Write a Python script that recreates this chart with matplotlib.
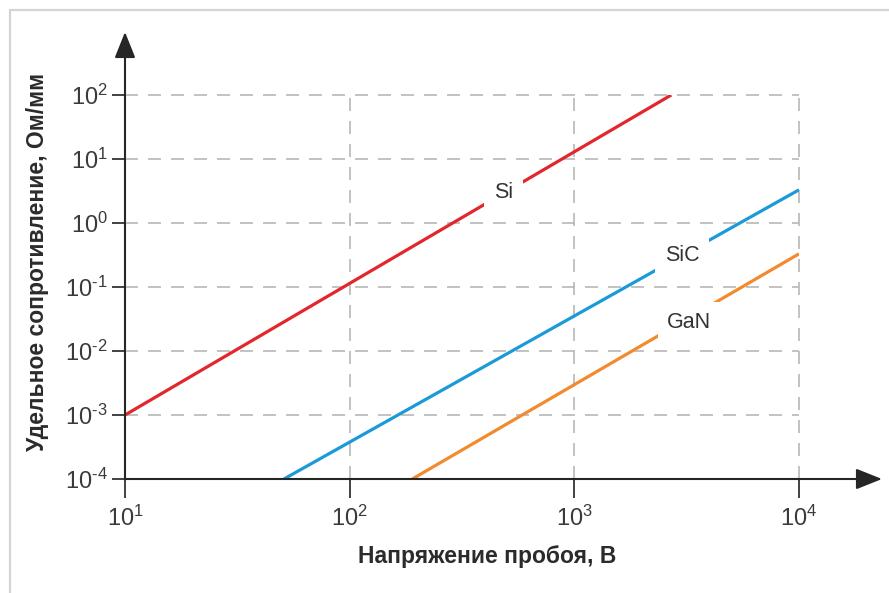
import numpy as np
import matplotlib.pyplot as plt
from matplotlib.patches import Rectangle

plt.rcParams['font.family'] = ['Liberation Sans', 'DejaVu Sans']
plt.rcParams['mathtext.fontset'] = 'custom'
plt.rcParams['mathtext.rm'] = 'Liberation Sans'
plt.rcParams['mathtext.default'] = 'regular'

# end points of the resistance / breakdown-voltage lines
materials = ['Si', 'SiC', 'GaN']
voltage_start = [10, 51, 190]
voltage_end = [2700, 10000, 10000]
res_start = [1e-3, 1e-4, 1e-4]
res_end = [100, 3.3, 0.33]
colors = ['#e3262c', '#1b9ad8', '#f28a2e']

# where the material names sit on their lines
label_x = [485, 3020, 3250]
label_y = [3.0, 0.31, 0.028]

x_ticks = [1e1, 1e2, 1e3, 1e4]
x_tick_labels = ['$10^{1}$', '$10^{2}$', '$10^{3}$', '$10^{4}$']
y_ticks = [1e-4, 1e-3, 1e-2, 1e-1, 1e0, 1e1, 1e2]
# plain hyphen in the exponents instead of the math minus
y_tick_labels = ['$10^{\u2010' + '4}$', '$10^{\u2010' + '3}$',
                 '$10^{\u2010' + '2}$', '$10^{\u2010' + '1}$',
                 '$10^{0}$', '$10^{1}$', '$10^{2}$']

W, H = 889, 593
fig = plt.figure(figsize=(W / 100, H / 100), dpi=100)
ax = fig.add_axes([125 / W, 1 - 479 / H, 674 / W, 384 / H])

# light frame around the whole picture
fig.patches.append(Rectangle((10 / W, -0.02), 1.1, 1 - 10 / H + 0.02,
                             transform=fig.transFigure, fill=False,
                             edgecolor='#d4d4d4', lw=1.6, zorder=0))

ax.set_xscale('log')
ax.set_yscale('log')
ax.set_xlim(10, 1e4)
ax.set_ylim(1e-4, 1e2)

for i, name in enumerate(materials):
    ax.plot([voltage_start[i], voltage_end[i]], [res_start[i], res_end[i]],
            color=colors[i], lw=2.3, solid_capstyle='butt', zorder=3)
    ax.text(label_x[i], label_y[i], name, fontsize=15.5, color='#333333',
            ha='center', va='center', zorder=4,
            bbox=dict(facecolor='white', edgecolor='none', pad=7))

ax.set_xticks(x_ticks)
ax.set_xticklabels(x_tick_labels)
ax.set_yticks(y_ticks)
ax.set_yticklabels(y_tick_labels)
ax.minorticks_off()
ax.tick_params(axis='x', length=14, width=1.3, color='#333333',
               labelsize=17, labelcolor='#3a3a3a', pad=5)
ax.tick_params(axis='y', length=9.5, width=1.3, color='#333333',
               labelsize=17, labelcolor='#3a3a3a', pad=3)

ax.grid(True, which='major', color='#b8b8b8', lw=1.2,
        linestyle=(0, (7.8, 6)), zorder=1)
for gl in ax.get_xgridlines() + ax.get_ygridlines():
    gl.set_clip_on(False)

for s in ax.spines.values():
    s.set_visible(False)

# axes drawn as arrows
arrow = dict(arrowstyle='-|>,head_length=0.8,head_width=0.32',
             mutation_scale=20, lw=1.5, color='#262626',
             shrinkA=0, shrinkB=0)
ax.annotate('', xy=(0, (479 - 32) / 384), xytext=(0, 0),
            xycoords='axes fraction', arrowprops=arrow, annotation_clip=False)
ax.annotate('', xy=((882 - 125) / 674, 0), xytext=(0, 0),
            xycoords='axes fraction', arrowprops=arrow, annotation_clip=False)

fig.text(487 / W, 1 - 557 / H, 'Напряжение пробоя, В', fontsize=16.5,
         fontweight='bold', color='#2b2b2b', ha='center', va='center')
fig.text(38 / W, 1 - 262 / H, 'Удельное сопротивление, Ом/мм', fontsize=16.5,
         fontweight='bold', color='#2b2b2b', ha='center', va='center',
         rotation=90)

fig.savefig('out.png', dpi=100, facecolor='white')
